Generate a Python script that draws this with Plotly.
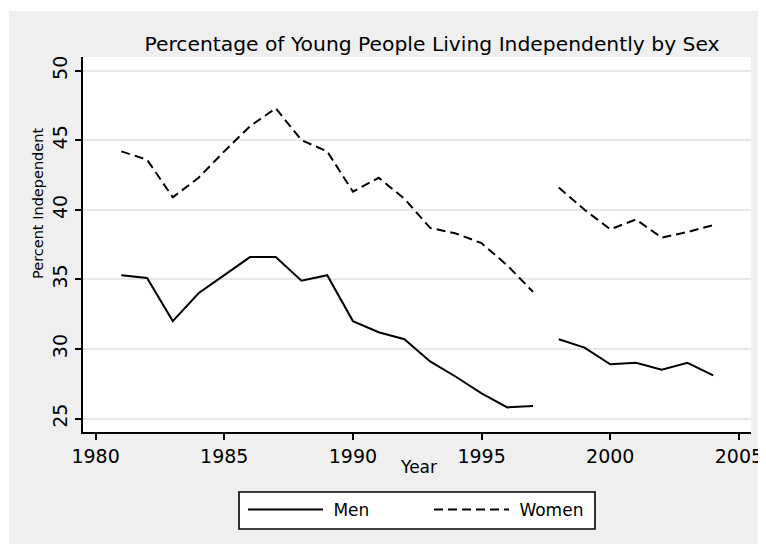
import plotly.graph_objects as go

years = [1981, 1982, 1983, 1984, 1985, 1986, 1987, 1988, 1989, 1990, 1991, 1992,
         1993, 1994, 1995, 1996, 1997, 1998, 1999, 2000, 2001, 2002, 2003, 2004]
men = [35.3, 35.1, 32.0, 34.0, 35.3, 36.6, 36.6, 34.9, 35.3, 32.0, 31.2, 30.7,
       29.1, 28.0, 26.8, 25.8, 25.9, 30.7, 30.1, 28.9, 29.0, 28.5, 29.0, 28.1]
women = [44.2, 43.6, 40.9, 42.3, 44.2, 46.0, 47.3, 45.0, 44.2, 41.3, 42.3, 40.8,
         38.7, 38.3, 37.6, 36.0, 34.1, 41.6, 40.0, 38.6, 39.3, 38.0, 38.4, 38.9]
break_year = 1998  # series are reported in two separate segments
x_ticks = [1980, 1985, 1990, 1995, 2000, 2005]
y_ticks = [25, 30, 35, 40, 45, 50]

OFF = 8  # page body margin
W, H = 766 - OFF, 544 - OFF
# plot area in screen pixels: x 83..751, y 57..432
L = 83 - OFF
R = W - (751 - OFF)
T = 57 - OFF
B = H - (432 - OFF)
FONT = "DejaVu Sans"

fig = go.Figure()

def add_series(vals, name, dash):
    segs = [
        [(x, v) for x, v in zip(years, vals) if x < break_year],
        [(x, v) for x, v in zip(years, vals) if x >= break_year],
    ]
    for i, seg in enumerate(segs):
        fig.add_trace(go.Scatter(
            x=[p[0] for p in seg], y=[p[1] for p in seg],
            mode="lines", name="\u00a0" + name, legendgroup=name, showlegend=(i == 0),
            line=dict(color="black", width=2, dash=dash),
        ))

add_series(men, "Men", "solid")
add_series(women, "Women", "9px,5px")

pw = W - L - R
ph = H - T - B

def px_x(p):  # screen px -> paper x
    return (p - OFF - L) / pw

def px_y(p):  # screen px -> paper y
    return (H - B - (p - OFF)) / ph

shapes = [
    dict(type="rect", xref="paper", yref="paper", x0=px_x(OFF), x1=px_x(766),
         y0=px_y(11), y1=px_y(OFF), fillcolor="white", line=dict(width=0), layer="below"),
    dict(type="rect", xref="paper", yref="paper", x0=px_x(OFF), x1=px_x(9),
         y0=px_y(544), y1=px_y(OFF), fillcolor="white", line=dict(width=0), layer="below"),
    # legend frame
    dict(type="rect", xref="paper", yref="paper", x0=px_x(239), x1=px_x(595),
         y0=px_y(529), y1=px_y(492), fillcolor="white",
         line=dict(width=1.6, color="black"), layer="below"),
]

annotations = [
    dict(text="Percent Independent", xref="paper", yref="paper",
         x=px_x(38), y=px_y(204), xanchor="center", yanchor="middle",
         textangle=-90, showarrow=False, font=dict(size=14.5, family=FONT, color="black")),
    dict(text="Year", xref="paper", yref="paper",
         x=px_x(418), y=px_y(467), xanchor="center", yanchor="middle",
         showarrow=False, font=dict(size=17, family=FONT, color="black")),
]

fig.update_layout(
    width=W, height=H,
    margin=dict(l=L, r=R, t=T, b=B, autoexpand=False),
    paper_bgcolor="#efefef",
    plot_bgcolor="white",
    font=dict(family=FONT, color="black"),
    shapes=shapes,
    annotations=annotations,
    title=dict(text="Percentage of Young People Living Independently by Sex",
               xref="paper", x=px_x(432), xanchor="center",
               y=1 - (44 - OFF) / H, yanchor="middle",
               font=dict(size=20.3, family=FONT, color="black")),
    xaxis=dict(
        range=[1979.51, 2005.47], tickvals=x_ticks, ticks="outside", ticklen=6,
        tickwidth=1.5, tickcolor="black", showgrid=False, zeroline=False,
        showline=True, linecolor="black", linewidth=2, automargin=False,
        tickfont=dict(size=19, family=FONT),
    ),
    yaxis=dict(
        range=[24.03, 50.98], tickvals=y_ticks, ticks="outside", ticklen=6,
        tickwidth=1.5, tickcolor="black", showgrid=True, gridcolor="#e8e8e8",
        gridwidth=1.5, zeroline=False, showline=True, linecolor="black",
        linewidth=2, tickangle=-90, tickfont=dict(size=19, family=FONT),
        automargin=False,
    ),
    legend=dict(
        orientation="h", x=px_x(243), xanchor="left", y=px_y(492),
        yanchor="top", bgcolor="rgba(0,0,0,0)", borderwidth=0,
        font=dict(size=17, family=FONT), itemwidth=75,
        entrywidth=96,
    ),
)

fig.write_html("out.html")
